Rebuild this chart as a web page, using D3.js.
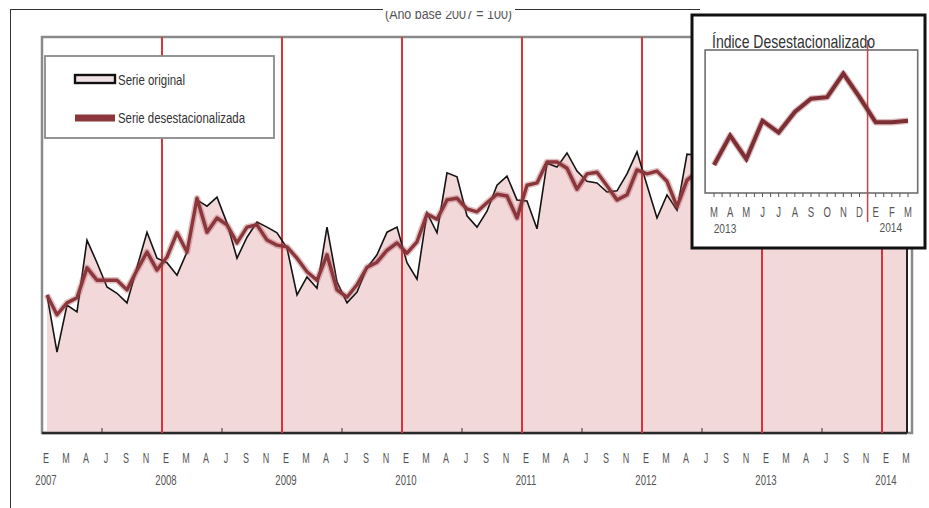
<!DOCTYPE html>
<html>
<head>
<meta charset="utf-8">
<script src="https://cdn.jsdelivr.net/npm/d3@7"></script>
<style>
  html, body { margin: 0; padding: 0; background: #fff; }
  svg { display: block; }
</style>
</head>
<body>
<svg id="chart" width="929" height="508"></svg>
<script>
// Monthly index, January 2007 to March 2014 (base 2007 = 100)
const years = ["2007", "2008", "2009", "2010", "2011", "2012", "2013", "2014"];
const axisLetters = ["E", "M", "A", "J", "S", "N"];

const original = [
  97.4, 87.3, 95.6, 94.4, 107.1, 103.1, 98.8, 97.7, 96.0, 102.3, 108.5, 103.9,
  103.1, 100.9, 105.0, 114.2, 113.1, 114.7, 110.1, 103.9, 107.6, 110.3, 109.4, 108.4,
  105.7, 97.4, 100.6, 98.6, 109.4, 99.7, 96.0, 97.9, 102.2, 104.5, 108.5, 109.4,
  103.1, 100.2, 111.9, 108.4, 119.0, 118.3, 111.4, 109.4, 112.2, 116.8, 118.4, 114.2,
  114.0, 109.1, 120.7, 120.0, 122.5, 119.3, 117.5, 117.2, 115.6, 115.8, 118.8, 122.7,
  116.8, 111.0, 115.1, 112.4, 122.3, 122.1, 117.5, 115.6, 116.8, 118.4, 121.8, 120.4,
  116.5, 109.8, 116.1, 117.7, 121.6, 122.8, 118.1, 118.3, 120.0, 122.5, 126.4, 124.1,
  118.1, 112.2, 119.1
];

const adjusted = [
  97.4, 93.9, 96.0, 96.9, 102.2, 100.0, 100.0, 100.0, 98.3, 101.8, 105.0, 101.8,
  104.1, 108.4, 105.0, 114.5, 108.5, 111.0, 109.8, 106.6, 109.4, 109.8, 107.1, 106.2,
  105.9, 103.9, 101.5, 100.0, 104.5, 98.3, 97.0, 99.2, 102.3, 103.2, 105.3, 106.6,
  104.8, 106.8, 111.7, 110.8, 114.2, 114.5, 112.6, 112.1, 113.7, 115.2, 114.9, 111.0,
  116.8, 117.2, 120.9, 120.9, 119.8, 116.1, 118.8, 119.1, 116.7, 114.2, 115.1, 119.5,
  118.8, 119.3, 117.5, 113.0, 117.7, 119.1, 118.4, 117.7, 118.1, 117.4, 118.4, 117.7,
  118.1, 117.2, 116.8, 118.8, 117.2, 119.8, 119.0, 120.4, 121.3, 121.4, 123.0, 121.4,
  119.7, 119.7, 119.8
];

const legendLabels = ["Serie original", "Serie desestacionalizada"];
const subtitle = "(Año base 2007 = 100)";
const insetTitle = "Índice Desestacionalizado";
const insetLetters = ["M", "A", "M", "J", "J", "A", "S", "O", "N", "D", "E", "F", "M"];
const insetYears = ["2013", "2014"];

const FONT = "'Liberation Sans Narrow','Arial Narrow','Liberation Sans',Arial,sans-serif";
const svg = d3.select("#chart");
const n = original.length;

const x = d3.scaleLinear().domain([0, n - 1]).range([47, 907]);
const y = d3.scaleLinear().domain([73, 143]).range([433, 37]);
const [yMin, yMax] = y.domain();

// condensed label helper
function label(g, text, px, py, size, sx, color, anchor) {
  return g.append("text")
    .attr("transform", `translate(${px},${py}) scale(${sx},1)`)
    .attr("text-anchor", anchor || "middle")
    .attr("font-family", FONT)
    .attr("font-size", size)
    .attr("fill", color)
    .text(text);
}

// page frame and clipped subtitle
svg.append("text")
  .attr("x", 385).attr("y", 19)
  .attr("font-family", FONT).attr("font-size", 14).attr("fill", "#555")
  .attr("textLength", 127).attr("lengthAdjust", "spacingAndGlyphs")
  .text(subtitle);
svg.append("rect").attr("x", 0).attr("y", 0).attr("width", 929).attr("height", 11).attr("fill", "#fff");
svg.append("line").attr("x1", 10).attr("x2", 383).attr("y1", 9.5).attr("y2", 9.5)
  .attr("stroke", "#333").attr("stroke-width", 1);
svg.append("line").attr("x1", 515).attr("x2", 700).attr("y1", 9.5).attr("y2", 9.5)
  .attr("stroke", "#333").attr("stroke-width", 1);
svg.append("line").attr("x1", 10.5).attr("x2", 10.5).attr("y1", 9).attr("y2", 508)
  .attr("stroke", "#333").attr("stroke-width", 1);

const plot = svg.append("g");

// plot frame
plot.append("rect")
  .attr("x", x(-0.5)).attr("y", y(yMax))
  .attr("width", x(n - 0.5) - x(-0.5)).attr("height", y(yMin) - y(yMax))
  .attr("fill", "#fff").attr("stroke", "#8a8a8a").attr("stroke-width", 2.5);

// original series as filled area
const area = d3.area()
  .x((d, i) => x(i))
  .y0(y(yMin))
  .y1(d => y(d));
plot.append("path").datum(original)
  .attr("d", area)
  .attr("fill", "#f3d8da");

// right edge of the area and base line
plot.append("line")
  .attr("x1", x(n - 1)).attr("x2", x(n - 1))
  .attr("y1", y(original[n - 1])).attr("y2", y(yMin))
  .attr("stroke", "#222").attr("stroke-width", 2);
plot.append("line")
  .attr("x1", x(-0.5)).attr("x2", x(n - 1))
  .attr("y1", y(yMin)).attr("y2", y(yMin))
  .attr("stroke", "#2a2a2a").attr("stroke-width", 2.5);

// January separators
plot.selectAll("line.year").data(d3.range(12, n, 12)).join("line")
  .attr("class", "year")
  .attr("x1", i => x(i - 0.5)).attr("x2", i => x(i - 0.5))
  .attr("y1", y(yMax)).attr("y2", y(yMin))
  .attr("stroke", "#d9343a").attr("stroke-width", 2);

// mid-year ticks
plot.selectAll("line.mid").data(d3.range(6, n, 12)).join("line")
  .attr("class", "mid")
  .attr("x1", i => x(i - 0.5)).attr("x2", i => x(i - 0.5))
  .attr("y1", y(yMin) - 5).attr("y2", y(yMin))
  .attr("stroke", "#333").attr("stroke-width", 1);

// series lines
const line = d3.line().x((d, i) => x(i)).y(d => y(d));
plot.append("path").datum(original)
  .attr("d", line).attr("fill", "none")
  .attr("stroke", "#141414").attr("stroke-width", 1.6).attr("stroke-linejoin", "miter");
plot.append("path").datum(adjusted)
  .attr("d", line).attr("fill", "none")
  .attr("stroke", "rgba(170,80,86,0.35)").attr("stroke-width", 6.5).attr("stroke-linejoin", "round");
plot.append("path").datum(adjusted)
  .attr("d", line).attr("fill", "none")
  .attr("stroke", "#8a363b").attr("stroke-width", 3.4).attr("stroke-linejoin", "round");

// x axis labels
const axisG = svg.append("g");
d3.range(0, n, 2).forEach(i => {
  label(axisG, axisLetters[(i / 2) % axisLetters.length], x(i) - 1, 463, 15, 0.6, "#555");
});
d3.range(0, n, 12).forEach(i => {
  label(axisG, years[i / 12], x(i) - 1, 485, 15, 0.64, "#555");
});

// legend
const leg = svg.append("g");
leg.append("rect").attr("x", 45).attr("y", 56).attr("width", 229).attr("height", 82)
  .attr("fill", "#fff").attr("stroke", "#8a8a8a").attr("stroke-width", 1.8);
leg.append("rect").attr("x", 75).attr("y", 75).attr("width", 40).attr("height", 8)
  .attr("fill", "#f1e3e5").attr("stroke", "#111").attr("stroke-width", 2.4);
leg.append("line").attr("x1", 75).attr("x2", 115).attr("y1", 118).attr("y2", 118)
  .attr("stroke", "#8a363b").attr("stroke-width", 7);
leg.append("text").attr("x", 118).attr("y", 85)
  .attr("font-family", FONT).attr("font-size", 15).attr("fill", "#333")
  .attr("textLength", 67).attr("lengthAdjust", "spacingAndGlyphs")
  .text(legendLabels[0]);
leg.append("text").attr("x", 118).attr("y", 123)
  .attr("font-family", FONT).attr("font-size", 15).attr("fill", "#333")
  .attr("textLength", 127).attr("lengthAdjust", "spacingAndGlyphs")
  .text(legendLabels[1]);

// inset: last thirteen months of the seasonally adjusted index
const insetValues = adjusted.slice(n - insetLetters.length);
const inset = svg.append("g");
inset.append("rect").attr("x", 692).attr("y", 15).attr("width", 233).attr("height", 233)
  .attr("fill", "#fff").attr("stroke", "#111").attr("stroke-width", 3);

const ix = d3.scaleLinear().domain([0, insetValues.length - 1]).range([714, 908]);
const iy = d3.scaleLinear().domain([114.9, 124.6]).range([193, 50]);

inset.append("rect")
  .attr("x", ix(-0.55)).attr("y", iy(124.6))
  .attr("width", ix(12.6) - ix(-0.55)).attr("height", iy(114.9) - iy(124.6))
  .attr("fill", "#fff").attr("stroke", "#6e6e6e").attr("stroke-width", 1.6);

inset.selectAll("line.itick").data(d3.range(0, insetValues.length - 0.5, 0.5)).join("line")
  .attr("class", "itick")
  .attr("x1", d => ix(d)).attr("x2", d => ix(d))
  .attr("y1", iy(114.9)).attr("y2", iy(114.9) + 4)
  .attr("stroke", "#555").attr("stroke-width", 1);

inset.append("line")
  .attr("x1", ix(9.5)).attr("x2", ix(9.5))
  .attr("y1", 40).attr("y2", 222)
  .attr("stroke", "#c9424c").attr("stroke-width", 1.5);

inset.append("text").attr("x", 712).attr("y", 48)
  .attr("font-family", FONT).attr("font-size", 19).attr("fill", "#333")
  .attr("textLength", 163).attr("lengthAdjust", "spacingAndGlyphs")
  .text(insetTitle);

const iline = d3.line().x((d, i) => ix(i)).y(d => iy(d));
inset.append("path").datum(insetValues)
  .attr("d", iline).attr("fill", "none")
  .attr("stroke", "rgba(150,60,66,0.35)").attr("stroke-width", 6.5).attr("stroke-linejoin", "round");
inset.append("path").datum(insetValues)
  .attr("d", iline).attr("fill", "none")
  .attr("stroke", "#7c2e33").attr("stroke-width", 4).attr("stroke-linejoin", "miter");

insetLetters.forEach((t, i) => label(inset, t, ix(i), 217, 14, 0.68, "#555"));
label(inset, insetYears[0], ix(0) + 11, 233, 12, 0.85, "#555");
label(inset, insetYears[1], ix(11) - 1, 232, 12, 0.85, "#555");
</script>
</body>
</html>
